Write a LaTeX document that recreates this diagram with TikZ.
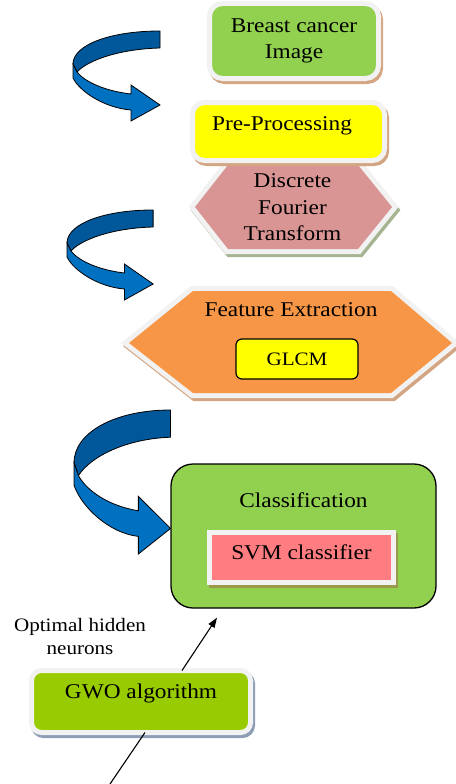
\documentclass[tikz,border=0pt]{standalone}
\usepackage{fontspec}
\setmainfont{Liberation Serif}[FakeStretch=1.11]
\usetikzlibrary{arrows.meta}
\definecolor{cgreen}{HTML}{92D050}
\definecolor{cyellow}{HTML}{FFFF00}
\definecolor{cpink}{HTML}{D99594}
\definecolor{corange}{HTML}{F79646}
\definecolor{csvm}{HTML}{FF7C80}
\definecolor{cgwo}{HTML}{99CC00}
\definecolor{framegray}{HTML}{F2F2F2}
\definecolor{tanshadow}{HTML}{D4A582}
\definecolor{greyshadow}{HTML}{A6B491}
\definecolor{oliveshadow}{HTML}{9C9A4A}
\definecolor{blueshadow}{HTML}{8C9DB5}
\definecolor{bluefront}{HTML}{0070C0}
\definecolor{blueback}{HTML}{00589B}
\tikzset{
  shadowbox/.style={preaction={draw=#1, fill=#1, line width=5pt, transform canvas={xshift=2pt,yshift=-3pt}}},
  framed/.style={draw=framegray, line width=5pt, inner sep=0pt, outer sep=0pt},
  hexframe/.style 2 args={preaction={draw=#2, fill=#2, line width=10pt, transform canvas={xshift=2pt,yshift=-3pt}},
     draw=framegray, line width=10pt, postaction={fill=#1}},
  txt/.style={font=\fontsize{21}{26.5}\selectfont, text=black},
  smalltxt/.style={font=\fontsize{19}{23}\selectfont, text=black},
  backband/.style={draw=black, line width=0.8pt, fill=blueback, line join=round},
  frontband/.style={draw=black, line width=0.8pt, fill=bluefront, line join=miter},
  conn/.style={draw=black, line width=1.1pt},
}
\newcommand\bluecurl[3]{%
  \begin{scope}[shift={#1}, xscale=#2, yscale=#3]
    \path[backband] (87,0) .. controls (37,0) and (0,14) .. (0,33) -- (4,41)
      .. controls (15,29) and (47,18) .. (87,17) -- cycle;
    \path[frontband] (0,33) -- (0,47) .. controls (7,61) and (32,77) .. (58,79)
      -- (58,90) -- (87,74) -- (58,54) -- (58,63)
      .. controls (32,60) and (12,51) .. (4,41) -- cycle;
  \end{scope}}
\begin{document}
\begin{tikzpicture}[x=1pt,y=-1pt]
\useasboundingbox (0,0) rectangle (455,784);

% Breast cancer image
\node[framed, fill=cgreen, shadowbox=tanshadow, rounded corners=13pt,
      minimum width=169pt, minimum height=75pt, align=center, txt] (img) at (294,41) {Breast cancer\\Image};

% DFT hexagon
\path[hexframe={cpink}{greyshadow}] (195,207) -- (228,165) -- (358,165) -- (392,207) -- (358,249) -- (228,249) -- cycle;
\node[txt, align=center] (dft) at (292.5,207.5) {Discrete\\Fourier\\Transform};

% Pre-processing
\node[framed, fill=cyellow, shadowbox=tanshadow, rounded corners=12pt,
      minimum width=192pt, minimum height=58pt, txt, text height=14.3pt, text depth=17.3pt] (pre) at (288.5,131.5) {\hspace*{-13pt}Pre-Processing};

% Feature extraction hexagon
\path[hexframe={corange}{tanshadow}] (129,343) -- (193,291) -- (391,291) -- (452,343) -- (391,393) -- (193,393) -- cycle;
\node[txt, anchor=base] (fe) at (291,316) {Feature Extraction};
\node[draw=black, line width=1.2pt, fill=cyellow, rounded corners=6pt, minimum width=122pt, minimum height=40pt,
      inner sep=0pt, smalltxt, text height=12.6pt, text depth=0.6pt] (glcm) at (297,359) {GLCM};

% Classification
\node[draw=black, line width=1.3pt, fill=cgreen, rounded corners=22pt, minimum width=265pt, minimum height=144pt,
      inner sep=0pt, txt, text height=14.3pt, text depth=72.3pt] (cls) at (303.5,536) {Classification};
\node[framed, fill=csvm, shadowbox=oliveshadow, minimum width=184pt, minimum height=50pt,
      txt, text height=14.3pt, text depth=11.3pt] (svm) at (301.5,557.5) {SVM classifier};

% GWO
\node[framed, fill=cgwo, shadowbox=blueshadow, rounded corners=10pt, minimum width=219pt, minimum height=62pt,
      txt, text height=14.3pt, text depth=21.3pt] (gwo) at (141,701.5) {GWO algorithm};
\node[smalltxt, align=center] (lbl) at (80,636) {Optimal hidden\\neurons};

% curved arrows
\bluecurl{(73,31)}{1}{1}
\bluecurl{(67,210)}{0.99}{1}
\bluecurl{(74,410)}{1.11}{1.6}

% connectors
\draw[conn, -{Triangle[length=10pt,width=7pt]}] ([xshift=41pt]gwo.north) -- ([xshift=-86.5pt,yshift=-9pt]cls.south);
\coordinate (lineend) at (110,784);
\draw[conn] ([xshift=4pt]gwo.south) -- (lineend);
\end{tikzpicture}
\end{document}
